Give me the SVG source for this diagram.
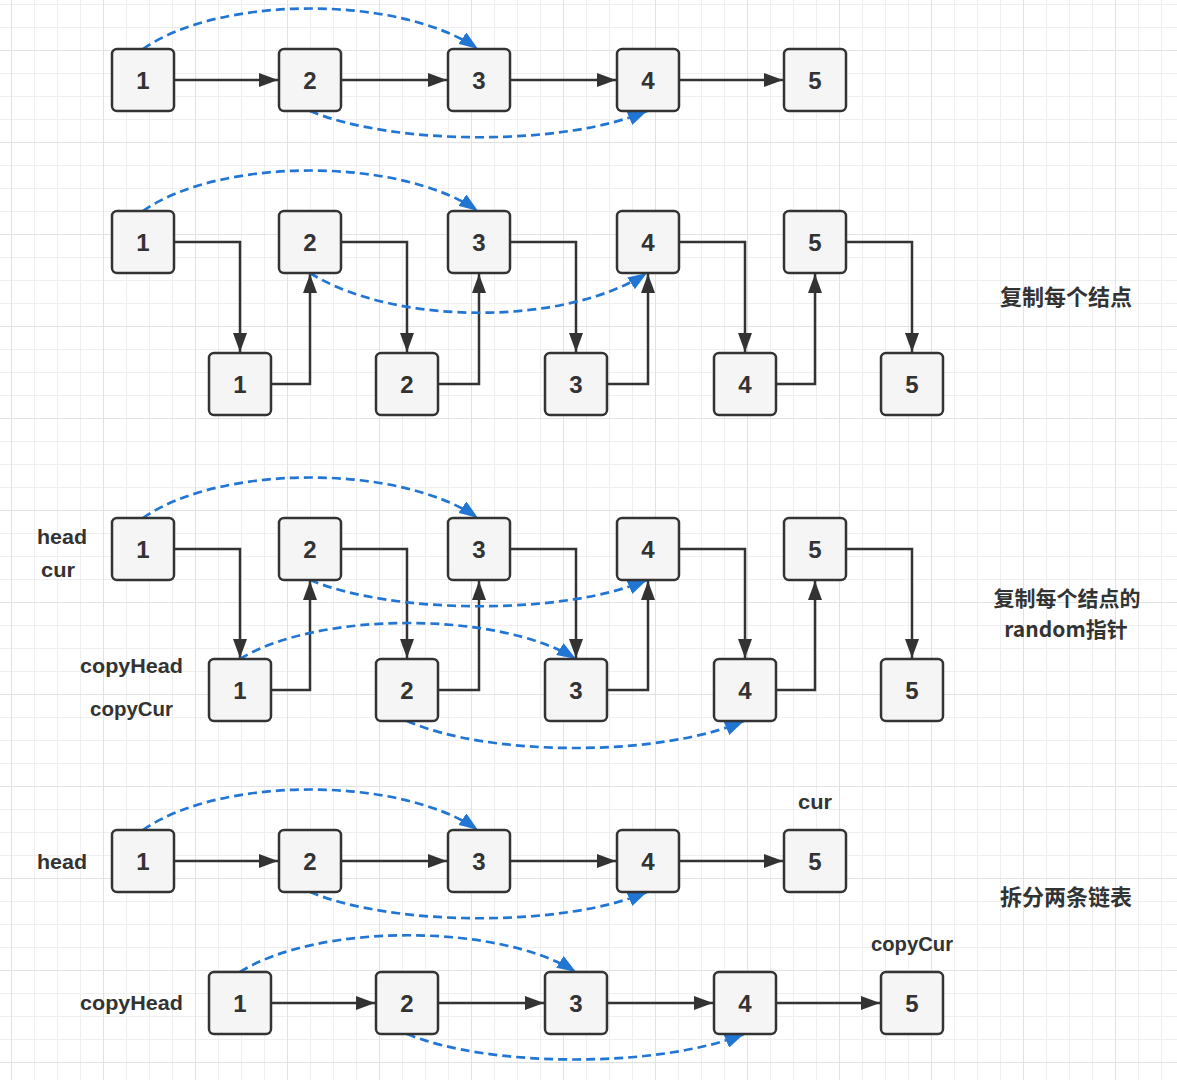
<svg xmlns="http://www.w3.org/2000/svg" width="1177" height="1080" viewBox="0 0 1177 1080">
<defs>
<pattern id="grid" patternUnits="userSpaceOnUse" x="11" y="-42" width="92" height="92">
<rect width="92" height="92" fill="#ffffff"/>
<rect x="23" y="0" width="1" height="92" fill="#efefef"/>
<rect x="46" y="0" width="1" height="92" fill="#efefef"/>
<rect x="69" y="0" width="1" height="92" fill="#efefef"/>
<rect x="0" y="23" width="92" height="1" fill="#efefef"/>
<rect x="0" y="46" width="92" height="1" fill="#efefef"/>
<rect x="0" y="69" width="92" height="1" fill="#efefef"/>
<rect x="0" y="0" width="1" height="92" fill="#e2e2e2"/>
<rect x="0" y="0" width="92" height="1" fill="#e2e2e2"/>
</pattern>
<marker id="ab" markerUnits="userSpaceOnUse" markerWidth="20" markerHeight="14" refX="19" refY="7" orient="auto" viewBox="0 0 20 14">
<path d="M0,0 L19,7 L0,14 z" fill="#333333"/>
</marker>
<marker id="ablue" markerUnits="userSpaceOnUse" markerWidth="20" markerHeight="14" refX="19" refY="7" orient="auto" viewBox="0 0 20 14">
<path d="M0,0 L19,7 L0,14 z" fill="#2175d3"/>
</marker>
</defs>
<style>
.n rect{fill:#f5f5f5;stroke:#333333;stroke-width:2.5}
.n text{font-family:"Liberation Sans","Noto Sans",sans-serif;font-size:24px;font-weight:bold;fill:#333333;text-anchor:middle}
.e{fill:none;stroke:#333333;stroke-width:2.5;marker-end:url(#ab)}
.r{fill:none;stroke:#2175d3;stroke-width:2.7;stroke-dasharray:9 5;marker-end:url(#ablue)}
.lb{font-family:"Liberation Sans","Noto Sans CJK SC",sans-serif;font-size:21px;font-weight:bold;fill:#333333}
.cn{font-family:"Noto Sans CJK SC","Liberation Sans",sans-serif;font-size:22px;font-weight:bold;fill:#333333;text-anchor:middle}
.cs{font-size:21px}
</style>
<rect width="1177" height="1080" fill="url(#grid)"/>

<g id="connectors">
<path class="e" d="M174,80 H278"/>
<path class="e" d="M341,80 H447"/>
<path class="e" d="M510,80 H616"/>
<path class="e" d="M679,80 H783"/>
<path class="r" d="M143,49 C220,-5 400,-5 478,49"/>
<path class="r" d="M310,111 C395,146 565,146 647,111"/>
<path class="e" d="M174,242 H240 V352"/>
<path class="e" d="M341,242 H407 V352"/>
<path class="e" d="M510,242 H576 V352"/>
<path class="e" d="M679,242 H745 V352"/>
<path class="e" d="M846,242 H912 V352"/>
<path class="e" d="M271,384 H310 V274"/>
<path class="e" d="M438,384 H479 V274"/>
<path class="e" d="M607,384 H648 V274"/>
<path class="e" d="M776,384 H815 V274"/>
<path class="r" d="M143,211 C220,157 400,157 478,211"/>
<path class="r" d="M310,273 C395,326 565,326 647,273"/>
<path class="e" d="M174,549 H240 V658"/>
<path class="e" d="M341,549 H407 V658"/>
<path class="e" d="M510,549 H576 V658"/>
<path class="e" d="M679,549 H745 V658"/>
<path class="e" d="M846,549 H912 V658"/>
<path class="e" d="M271,690 H310 V581"/>
<path class="e" d="M438,690 H479 V581"/>
<path class="e" d="M607,690 H648 V581"/>
<path class="e" d="M776,690 H815 V581"/>
<path class="r" d="M143,518 C220,464 400,464 478,518"/>
<path class="r" d="M310,580 C395,615 565,615 647,580"/>
<path class="r" d="M240,659 C318,611 498,611 576,659"/>
<path class="r" d="M407,721 C490,757 660,757 744,721"/>
<path class="e" d="M174,861 H278"/>
<path class="e" d="M341,861 H447"/>
<path class="e" d="M510,861 H616"/>
<path class="e" d="M679,861 H783"/>
<path class="r" d="M143,830 C220,776 400,776 478,830"/>
<path class="r" d="M310,892 C395,927 565,927 647,892"/>
<path class="e" d="M271,1003 H375"/>
<path class="e" d="M438,1003 H544"/>
<path class="e" d="M607,1003 H713"/>
<path class="e" d="M776,1003 H880"/>
<path class="r" d="M240,972 C318,923 498,923 576,972"/>
<path class="r" d="M407,1034 C490,1068 660,1068 744,1034"/>
</g>

<g id="r1n1" class="n"><rect x="112" y="49" width="62" height="62" rx="5"/><text x="143" y="89">1</text></g>
<g id="r1n2" class="n"><rect x="279" y="49" width="62" height="62" rx="5"/><text x="310" y="89">2</text></g>
<g id="r1n3" class="n"><rect x="448" y="49" width="62" height="62" rx="5"/><text x="479" y="89">3</text></g>
<g id="r1n4" class="n"><rect x="617" y="49" width="62" height="62" rx="5"/><text x="648" y="89">4</text></g>
<g id="r1n5" class="n"><rect x="784" y="49" width="62" height="62" rx="5"/><text x="815" y="89">5</text></g>

<g id="r2n1" class="n"><rect x="112" y="211" width="62" height="62" rx="5"/><text x="143" y="251">1</text></g>
<g id="r2n2" class="n"><rect x="279" y="211" width="62" height="62" rx="5"/><text x="310" y="251">2</text></g>
<g id="r2n3" class="n"><rect x="448" y="211" width="62" height="62" rx="5"/><text x="479" y="251">3</text></g>
<g id="r2n4" class="n"><rect x="617" y="211" width="62" height="62" rx="5"/><text x="648" y="251">4</text></g>
<g id="r2n5" class="n"><rect x="784" y="211" width="62" height="62" rx="5"/><text x="815" y="251">5</text></g>
<g id="r2c1" class="n"><rect x="209" y="353" width="62" height="62" rx="5"/><text x="240" y="393">1</text></g>
<g id="r2c2" class="n"><rect x="376" y="353" width="62" height="62" rx="5"/><text x="407" y="393">2</text></g>
<g id="r2c3" class="n"><rect x="545" y="353" width="62" height="62" rx="5"/><text x="576" y="393">3</text></g>
<g id="r2c4" class="n"><rect x="714" y="353" width="62" height="62" rx="5"/><text x="745" y="393">4</text></g>
<g id="r2c5" class="n"><rect x="881" y="353" width="62" height="62" rx="5"/><text x="912" y="393">5</text></g>

<g id="r3n1" class="n"><rect x="112" y="518" width="62" height="62" rx="5"/><text x="143" y="558">1</text></g>
<g id="r3n2" class="n"><rect x="279" y="518" width="62" height="62" rx="5"/><text x="310" y="558">2</text></g>
<g id="r3n3" class="n"><rect x="448" y="518" width="62" height="62" rx="5"/><text x="479" y="558">3</text></g>
<g id="r3n4" class="n"><rect x="617" y="518" width="62" height="62" rx="5"/><text x="648" y="558">4</text></g>
<g id="r3n5" class="n"><rect x="784" y="518" width="62" height="62" rx="5"/><text x="815" y="558">5</text></g>
<g id="r3c1" class="n"><rect x="209" y="659" width="62" height="62" rx="5"/><text x="240" y="699">1</text></g>
<g id="r3c2" class="n"><rect x="376" y="659" width="62" height="62" rx="5"/><text x="407" y="699">2</text></g>
<g id="r3c3" class="n"><rect x="545" y="659" width="62" height="62" rx="5"/><text x="576" y="699">3</text></g>
<g id="r3c4" class="n"><rect x="714" y="659" width="62" height="62" rx="5"/><text x="745" y="699">4</text></g>
<g id="r3c5" class="n"><rect x="881" y="659" width="62" height="62" rx="5"/><text x="912" y="699">5</text></g>

<g id="r4n1" class="n"><rect x="112" y="830" width="62" height="62" rx="5"/><text x="143" y="870">1</text></g>
<g id="r4n2" class="n"><rect x="279" y="830" width="62" height="62" rx="5"/><text x="310" y="870">2</text></g>
<g id="r4n3" class="n"><rect x="448" y="830" width="62" height="62" rx="5"/><text x="479" y="870">3</text></g>
<g id="r4n4" class="n"><rect x="617" y="830" width="62" height="62" rx="5"/><text x="648" y="870">4</text></g>
<g id="r4n5" class="n"><rect x="784" y="830" width="62" height="62" rx="5"/><text x="815" y="870">5</text></g>

<g id="r5c1" class="n"><rect x="209" y="972" width="62" height="62" rx="5"/><text x="240" y="1012">1</text></g>
<g id="r5c2" class="n"><rect x="376" y="972" width="62" height="62" rx="5"/><text x="407" y="1012">2</text></g>
<g id="r5c3" class="n"><rect x="545" y="972" width="62" height="62" rx="5"/><text x="576" y="1012">3</text></g>
<g id="r5c4" class="n"><rect x="714" y="972" width="62" height="62" rx="5"/><text x="745" y="1012">4</text></g>
<g id="r5c5" class="n"><rect x="881" y="972" width="62" height="62" rx="5"/><text x="912" y="1012">5</text></g>

<g id="labels">
<text class="lb" x="37" y="544" textLength="50" lengthAdjust="spacingAndGlyphs">head</text>
<text class="lb" x="41" y="577" textLength="34" lengthAdjust="spacingAndGlyphs">cur</text>
<text class="lb" x="80" y="673" textLength="103" lengthAdjust="spacingAndGlyphs">copyHead</text>
<text class="lb" x="90" y="716" textLength="83" lengthAdjust="spacingAndGlyphs">copyCur</text>
<text class="lb" x="37" y="869" textLength="50" lengthAdjust="spacingAndGlyphs">head</text>
<text class="lb" x="80" y="1010" textLength="103" lengthAdjust="spacingAndGlyphs">copyHead</text>
<text class="lb" x="798" y="809" textLength="34" lengthAdjust="spacingAndGlyphs">cur</text>
<text class="lb" x="871" y="951" textLength="82" lengthAdjust="spacingAndGlyphs">copyCur</text>
<text class="cn" x="1066" y="305">复制每个结点</text>
<text class="cn cs" x="1067" y="606">复制每个结点的</text>
<text class="cn cs" x="1066" y="637">random指针</text>
<text class="cn" x="1066" y="905">拆分两条链表</text>
</g>
</svg>
